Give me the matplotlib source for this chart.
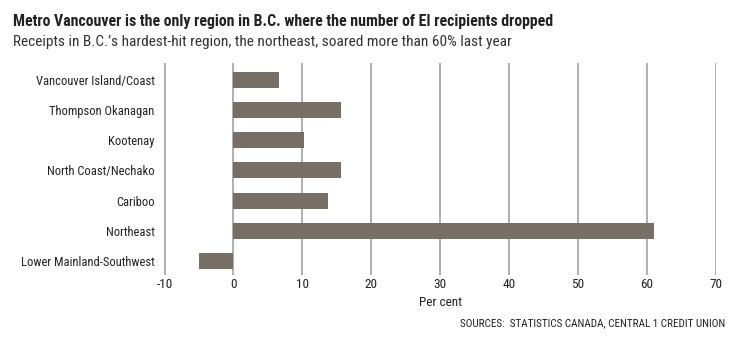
import matplotlib
matplotlib.use("Agg")
import matplotlib.pyplot as plt

regions = ["Vancouver Island/Coast", "Thompson Okanagan", "Kootenay",
           "North Coast/Nechako", "Cariboo", "Northeast", "Lower Mainland-Southwest"]
values = [6.6, 15.6, 10.3, 15.6, 13.7, 61.0, -5.0]
xticks = [-10, 0, 10, 20, 30, 40, 50, 60, 70]

FONT = ["Roboto Condensed", "DejaVu Sans"]
plt.rcParams["font.family"] = FONT

fig = plt.figure(figsize=(7.43, 3.48), dpi=100)
ax = fig.add_axes([0.221, 0.210, 0.743, 0.609])

ax.barh(range(len(regions)), values, height=0.53, color="#776f66", zorder=3)
ax.set_ylim(6.464, -0.563)
ax.set_xlim(-10.05, 70.05)
ax.set_xticks(xticks)
ax.set_xticklabels([str(t) for t in xticks], fontsize=9.5, color="#222222")
ax.set_yticks(range(len(regions)))
ax.set_yticklabels(regions, fontsize=9, color="#222222")
ax.tick_params(length=0, pad=2)
ax.tick_params(axis="y", pad=7)
ax.grid(axis="x", color="#9a9a9a", linewidth=1.1, zorder=0)
for s in ax.spines.values():
    s.set_visible(False)
ax.set_xlabel("Per cent", fontsize=9.5, color="#222222", labelpad=4)

fig.text(0.017, 0.925, "Metro Vancouver is the only region in B.C. where the number of EI recipients dropped",
         fontsize=11.4, fontweight="bold", color="#222222")
fig.text(0.017, 0.868, "Receipts in B.C.\u2019s hardest-hit region, the northeast, soared more than 60% last year",
         fontsize=11.1, color="#333333")
fig.text(0.976, 0.062, "SOURCES:  STATISTICS CANADA, CENTRAL 1 CREDIT UNION",
         fontsize=8, color="#222222", ha="right")

fig.savefig("out.png", dpi=100)
